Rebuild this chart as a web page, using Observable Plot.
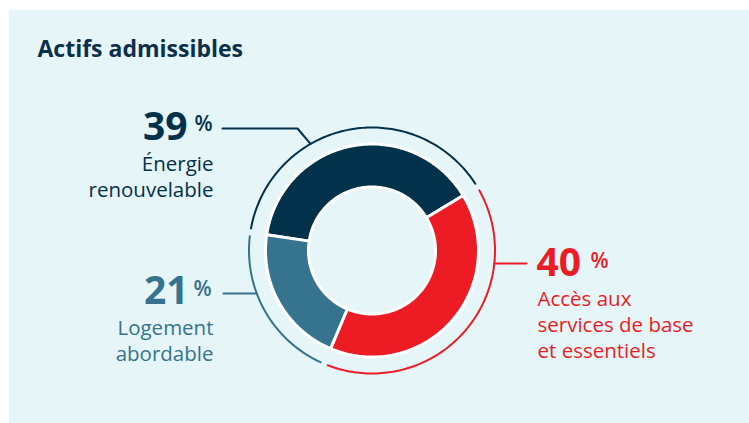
<!DOCTYPE html>
<html>
<head>
<meta charset="utf-8">
<script src="https://cdn.jsdelivr.net/npm/d3@7"></script>
<script src="https://cdn.jsdelivr.net/npm/@observablehq/plot@0.6"></script>
<style>
  html, body { margin: 0; padding: 0; background: #ffffff; }
  #chart { width: 749px; height: 423px; }
</style>
</head>
<body>
<div id="chart"></div>
<script>
// ---- Data ----
const title = "Actifs admissibles";
const categories = ["Énergie renouvelable", "Accès aux services de base et essentiels", "Logement abordable"];
const values = [39, 40, 21];
const valueLabels = ["39", "40", "21"];
const labelLines = [["Énergie", "renouvelable"], ["Accès aux", "services de base", "et essentiels"], ["Logement", "abordable"]];
const colors = ["#02314c", "#ed1c24", "#36738f"];

// ---- Layout ----
const W = 749, H = 423;
const cx = 371.5, cy = 250;
const rOuter = 106.5, rInner = 63.5, rRing = 123;
const startDeg = -81.5, ringInset = 1.8;
const leaderDeg = [-30, 96.1, 249.5];
const font = "'Open Sans', Lato, sans-serif";

const rad = d => d * Math.PI / 180;
const px = (r, deg) => cx + r * Math.sin(rad(deg));
const py = (r, deg) => cy - r * Math.cos(rad(deg));

const total = d3.sum(values);
let acc = startDeg;
const slices = values.map((v, i) => {
  const a0 = acc, a1 = acc + v / total * 360;
  acc = a1;
  return {i, cat: categories[i], a0, a1};
});

function arcPts(r, a0, a1, n) {
  const out = [];
  for (let k = 0; k <= n; k++) {
    const a = a0 + (a1 - a0) * k / n;
    out.push([px(r, a), py(r, a)]);
  }
  return out;
}

const slicePts = [];
const ringPts = [];
for (const s of slices) {
  const outer = arcPts(rOuter, s.a0, s.a1, 120);
  const inner = arcPts(rInner, s.a1, s.a0, 120);
  const poly = outer.concat(inner, [outer[0]]);
  poly.forEach(([x, y]) => slicePts.push({x, y, cat: s.cat}));
  arcPts(rRing, s.a0 + ringInset, s.a1 - ringInset, 120)
    .forEach(([x, y]) => ringPts.push({x, y, cat: s.cat}));
}

// leader lines
const leaders = [];
{
  const a = leaderDeg[0];
  leaders.push({x: px(rRing, a), y: py(rRing, a), cat: categories[0]});
  leaders.push({x: 297, y: 128, cat: categories[0]});
  leaders.push({x: 222, y: 128, cat: categories[0]});
}
{
  const a = leaderDeg[1];
  leaders.push({x: px(rRing, a), y: py(rRing, a), cat: categories[1]});
  leaders.push({x: 526, y: py(rRing, a), cat: categories[1]});
}
{
  const a = leaderDeg[2];
  leaders.push({x: px(rRing, a), y: py(rRing, a), cat: categories[2]});
  leaders.push({x: 223, y: py(rRing, a), cat: categories[2]});
}

// text placements
const numPos = [
  {x: 187, y: 139.5, anchor: "end"},
  {x: 536, y: 275, anchor: "start"},
  {x: 188, y: 303.5, anchor: "end"}
];
const pctPos = [
  {x: 194, y: 130, anchor: "start"},
  {x: 590, y: 267.5, anchor: "start"},
  {x: 193, y: 295.5, anchor: "start"}
];
const labPos = [
  {x: 213, y: 196, anchor: "end"},
  {x: 537, y: 357.5, anchor: "start"},
  {x: 213, y: 360, anchor: "end"}
];

const numData = categories.map((c, i) => ({cat: c, text: valueLabels[i], ...numPos[i]}));
const pctData = categories.map((c, i) => ({cat: c, text: "%", ...pctPos[i]}));
const labData = categories.map((c, i) => ({cat: c, text: labelLines[i].join("\n"), ...labPos[i]}));

const color = {domain: categories, range: colors};

const chart = Plot.plot({
  width: W, height: H,
  margin: 0,
  x: {domain: [0, W], range: [0, W], axis: null},
  y: {domain: [0, H], range: [0, H], axis: null},
  color,
  style: {background: "transparent", fontFamily: font},
  marks: [
    Plot.rect([{}], {x1: 9, x2: W, y1: 10, y2: H, fill: "#e6f5f7"}),
    Plot.text([title], {x: 37, y: 56, text: d => d, textAnchor: "start", lineAnchor: "bottom",
      fontSize: 23, fontWeight: 700, fill: "#0b2f4b", fontFamily: font}),
    Plot.line(slicePts, {x: "x", y: "y", z: "cat", fill: "cat", stroke: "white", strokeWidth: 3, strokeLinejoin: "miter"}),
    Plot.line(ringPts, {x: "x", y: "y", z: "cat", stroke: "cat", strokeWidth: 2}),
    Plot.line(leaders, {x: "x", y: "y", z: "cat", stroke: "cat", strokeWidth: 2}),
    ...numData.map(d => Plot.text([d], {x: "x", y: "y", text: "text", fill: "cat", textAnchor: d.anchor,
      lineAnchor: "bottom", fontSize: 39, fontWeight: 700, fontFamily: font})),
    ...pctData.map(d => Plot.text([d], {x: "x", y: "y", text: "text", fill: "cat", textAnchor: d.anchor,
      lineAnchor: "bottom", fontSize: 21, fontWeight: 600, fontFamily: font})),
    ...labData.map(d => Plot.text([d], {x: "x", y: "y", text: "text", fill: "cat", textAnchor: d.anchor,
      lineAnchor: "bottom", lineHeight: 1.26, fontSize: 20.5, fontWeight: 400, fontFamily: font}))
  ]
});
document.getElementById("chart").appendChild(chart);
</script>
</body>
</html>
